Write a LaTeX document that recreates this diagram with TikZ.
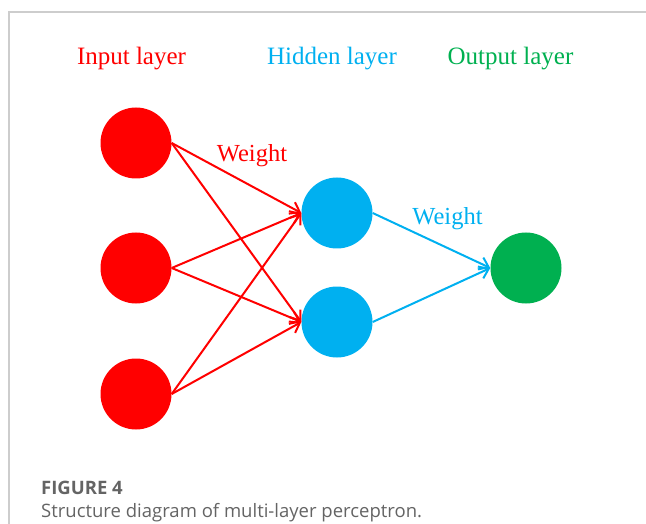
\documentclass[tikz,border=0pt]{standalone}
\usepackage{fontspec}
\setmainfont{Liberation Serif}
\newfontfamily\captionfont{Open Sans}
\usetikzlibrary{arrows.meta,positioning}
\definecolor{InRed}{RGB}{255,0,0}
\definecolor{HidBlue}{RGB}{0,176,240}
\definecolor{OutGreen}{RGB}{0,176,80}
\definecolor{FrameGray}{RGB}{205,205,205}
\definecolor{CapGray}{RGB}{100,100,100}
\tikzset{
  neuron/.style={circle, minimum size=71pt, inner sep=0pt},
  layerlabel/.style={font=\fontsize{25}{30}\selectfont, anchor=base, inner sep=0pt},
  weightlabel/.style={font=\fontsize{24.5}{29}\selectfont, anchor=base, inner sep=0pt},
  captext/.style={font=\captionfont\fontsize{18.5}{22}\selectfont, text=CapGray,
    anchor=base west, inner sep=0pt},
  wire/.style={-{Straight Barb[length=9pt,width=13pt,line width=2pt]}, line width=2pt}
}

\begin{document}
\begin{tikzpicture}[x=1pt, y=-1pt]
  \useasboundingbox (0,0) rectangle (646,524);
  \draw[FrameGray, line width=1.4pt] (9,524) -- (9,12) -- (646,12);

  % layer titles
  \node[layerlabel, text=InRed] (intitle) at (131.5,65) {Input layer};
  \node[layerlabel, text=HidBlue] (hidtitle) at (332,65) {Hidden layer};
  \node[layerlabel, text=OutGreen] (outtitle) at (510.5,65) {Output layer};

  % neurons
  \node[neuron, fill=InRed] (in1) at (136,143) {};
  \node[neuron, fill=InRed] (in2) at (136,268) {};
  \node[neuron, fill=InRed] (in3) at (136,394) {};
  \node[neuron, fill=HidBlue] (hid1) at (337,213) {};
  \node[neuron, fill=HidBlue] (hid2) at (337,322) {};
  \node[neuron, fill=OutGreen] (out) at (526,268) {};

  % weights
  \draw[wire, InRed] (in1.east) -- (hid1.west);
  \draw[wire, InRed] (in1.east) -- (hid2.west);
  \draw[wire, InRed] (in2.east) -- (hid1.west);
  \draw[wire, InRed] (in2.east) -- (hid2.west);
  \draw[wire, InRed] (in3.east) -- (hid1.west);
  \draw[wire, InRed] (in3.east) -- (hid2.west);
  \draw[wire, HidBlue] (hid1.east) -- (out.west);
  \draw[wire, HidBlue] (hid2.east) -- (out.west);
  \node[weightlabel, text=InRed] (w1) at (252,162) {Weight};
  \node[weightlabel, text=HidBlue] (w2) at (447.5,225) {Weight};

  % caption
  \node[captext] (figno) at (41,494) {\bfseries FIGURE 4};
  \node[captext] (figtext) at (41,517) {Structure diagram of multi-layer perceptron.};
\end{tikzpicture}
\end{document}
